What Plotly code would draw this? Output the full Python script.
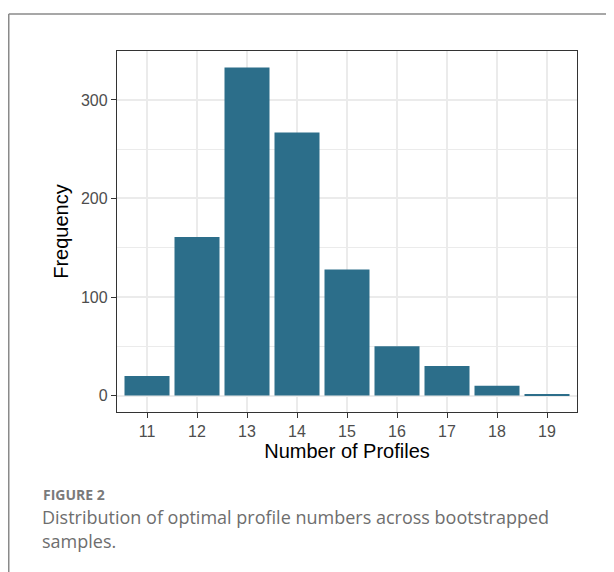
import plotly.graph_objects as go

profiles = [11, 12, 13, 14, 15, 16, 17, 18, 19]
frequency = [20, 161, 333, 267, 128, 50, 30, 10, 1]
y_ticks = [0, 100, 200, 300]

# page body has an 8px margin, so figure is offset by (8, 8) in the window
OFF = 8
W, H = 614 - OFF, 572 - OFF
L, R, T, B = 117 - OFF, 37, 51 - OFF, 160
pw, ph = W - L - R, H - T - B

def px_x(p):  # window pixel -> paper
    return (p - OFF - L) / pw

def px_y(p):
    return (H - B - (p - OFF)) / ph

fig = go.Figure()
fig.add_trace(go.Bar(
    x=profiles, y=frequency, width=0.9,
    marker=dict(color="#2C6E8A", line=dict(width=0)),
))

ymax = max(frequency)
fig.update_layout(
    width=W, height=H,
    margin=dict(l=L, r=R, t=T, b=B, pad=0),
    paper_bgcolor="white", plot_bgcolor="white",
    showlegend=False,
    font=dict(family="Liberation Sans, Arial, sans-serif"),
    xaxis=dict(
        range=[10.4, 19.6], tickvals=profiles, ticktext=[str(p) for p in profiles],
        showgrid=True, gridcolor="#EBEBEB", gridwidth=1.8,
        showline=True, linecolor="#333333", linewidth=1.3, mirror=True,
        ticks="outside", ticklen=5, tickcolor="#333333", tickwidth=1.3,
        tickfont=dict(size=16, color="#4D4D4D"),
        title=dict(text="Number of Profiles", font=dict(size=20, color="black"), standoff=4),
        zeroline=False,
    ),
    yaxis=dict(
        range=[-0.05 * ymax, 1.05 * ymax], tickvals=y_ticks,
        showgrid=True, gridcolor="#EBEBEB", gridwidth=1.8,
        minor=dict(dtick=50, showgrid=True, gridcolor="#EBEBEB", gridwidth=1.2, ticks=""),
        showline=True, linecolor="#333333", linewidth=1.3, mirror=True,
        ticks="outside", ticklen=5, tickcolor="#333333", tickwidth=1.3,
        tickfont=dict(size=16, color="#4D4D4D"),
        title=dict(text="Frequency", font=dict(size=20, color="black"), standoff=6),
        zeroline=False,
    ),
    shapes=[
        dict(type="line", xref="paper", yref="paper",
             x0=px_x(OFF + 0.75), x1=px_x(614 + 5), y0=px_y(14), y1=px_y(14),
             line=dict(color="#8A8A8A", width=1.5)),
        dict(type="line", xref="paper", yref="paper",
             x0=px_x(OFF + 0.75), x1=px_x(OFF + 0.75), y0=px_y(14), y1=px_y(572 + 5),
             line=dict(color="#8A8A8A", width=1.5)),
    ],
    annotations=[
        dict(text="<b>FIGURE 2</b>", xref="paper", yref="paper",
             x=px_x(41), y=px_y(494), xanchor="left", yanchor="middle",
             showarrow=False, font=dict(family="Open Sans", size=14, color="#7A7A7A")),
        dict(text="Distribution of optimal profile numbers across bootstrapped", xref="paper", yref="paper",
             x=px_x(40), y=px_y(517), xanchor="left", yanchor="middle",
             showarrow=False, font=dict(family="Open Sans", size=18, color="#6E6E6E")),
        dict(text="samples.", xref="paper", yref="paper",
             x=px_x(40), y=px_y(541), xanchor="left", yanchor="middle",
             showarrow=False, font=dict(family="Open Sans", size=18, color="#6E6E6E")),
    ],
)

fig.write_html("out.html")
